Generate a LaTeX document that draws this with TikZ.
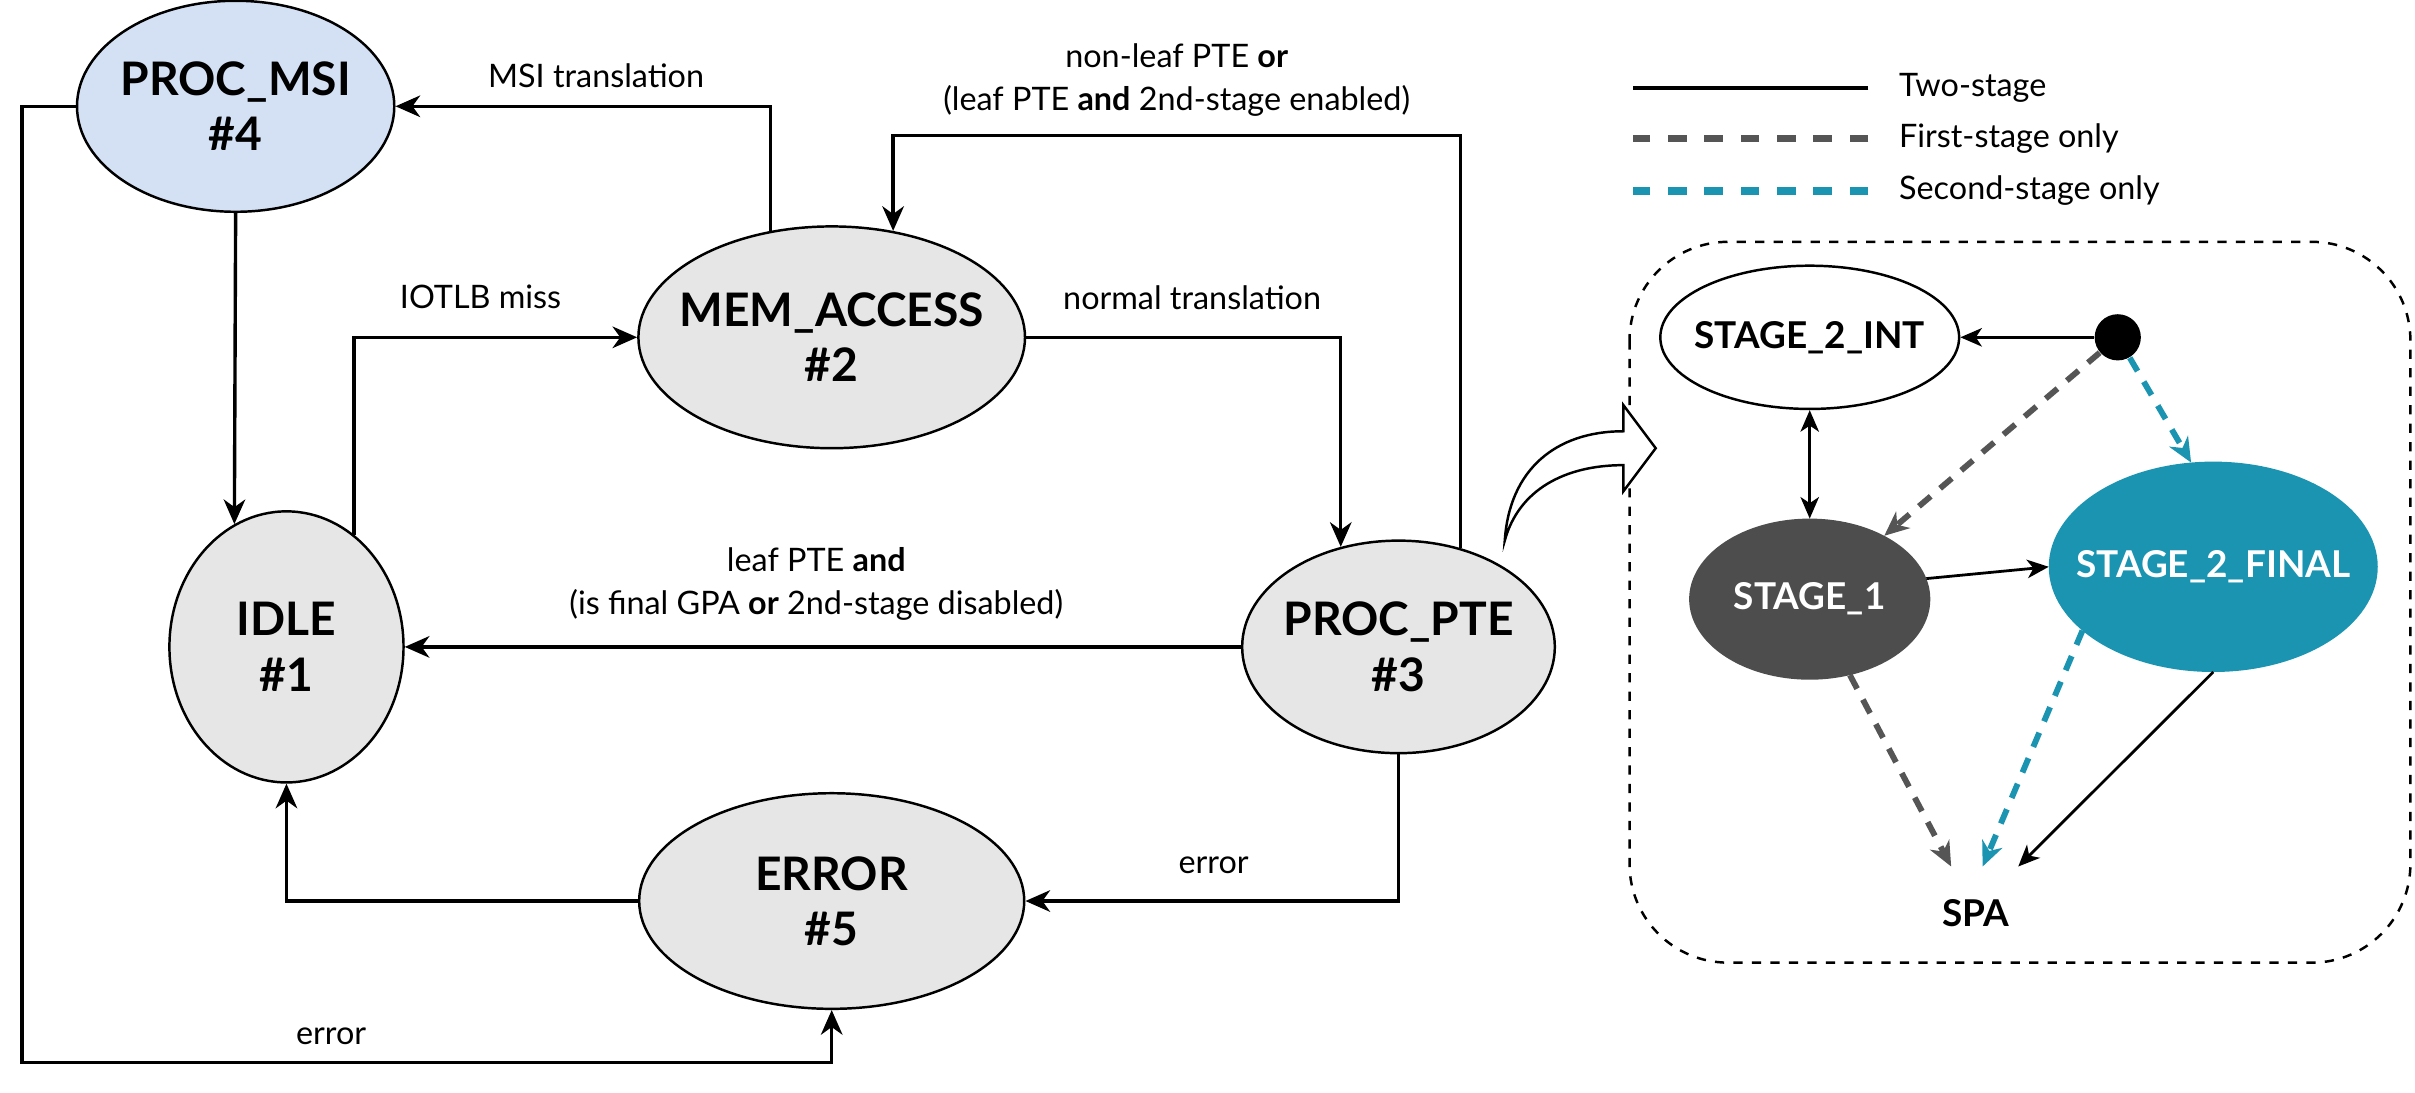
\documentclass[tikz,border=0pt]{standalone}
\usepackage{fontspec}
\setmainfont{Lato}
\usetikzlibrary{shapes.geometric,arrows.meta}

\definecolor{stategray}{HTML}{E6E6E6}
\definecolor{msiblue}{HTML}{D4E1F5}
\definecolor{stonegray}{HTML}{4D4D4D}
\definecolor{sttwoteal}{HTML}{1A94B1}
\definecolor{dashgray}{HTML}{555555}

% two centred lines that do not widen the ellipse
\newcommand{\stname}[2]{\makebox[0pt]{#1}\\\makebox[0pt]{#2}}

\begin{document}
\begin{tikzpicture}[x=0.5pt,y=-0.5pt,
  fsm/.style={ellipse,draw,line width=0.8pt,fill=stategray,inner sep=0pt,
    align=center,font=\fontsize{15}{18}\selectfont\bfseries},
  sub/.style={ellipse,draw,line width=0.8pt,inner sep=0pt,
    font=\fontsize{12}{14}\selectfont\bfseries},
  conn/.style={line width=1.1pt,-{Stealth[length=8pt,width=7pt,inset=2.5pt]}},
  connin/.style={line width=0.9pt,-{Stealth[length=7pt,width=6pt,inset=2pt]}},
  firstonly/.style={dashgray,line width=1.9pt,dash pattern=on 5pt off 4pt,
    -{Stealth[length=8pt,width=7pt,inset=2.5pt]}},
  secondonly/.style={sttwoteal,line width=1.9pt,dash pattern=on 5pt off 4pt,
    -{Stealth[length=8pt,width=7pt,inset=2.5pt]}},
  lbl/.style={font=\fontsize{10.5}{14}\selectfont,align=center},
  legline/.style={line width=2.4pt,dash pattern=on 6pt off 5.8pt}]
\useasboundingbox (0,0) rectangle (1568,709);

% walker states
\node[fsm,fill=msiblue,minimum width=103pt,minimum height=68.5pt] (msi) at (153,69) {\stname{PROC\_MSI}{\#4}};
\node[fsm,minimum width=125.5pt,minimum height=72pt] (mem) at (540,219) {\stname{MEM\_ACCESS}{\#2}};
\node[fsm,minimum width=76pt,minimum height=88pt] (idle) at (186,420) {\stname{IDLE}{\#1}};
\node[fsm,minimum width=101.5pt,minimum height=69pt] (pte) at (908,420) {\stname{PROC\_PTE}{\#3}};
\node[fsm,minimum width=125pt,minimum height=70pt] (err) at (540,585) {\stname{ERROR}{\#5}};

% transitions
\draw[conn] (mem.120) |- (msi.east);
\draw[conn] (pte.58) -- (pte.58 |- 0,88) -| (mem.60);
\draw[conn] (idle.59) |- (mem.west);
\draw[conn] (mem.east) -| (pte.120);
\draw[conn] (pte.west) -- (idle.east);
\draw[conn] (msi.south) -- (idle.113);
\draw[conn] (pte.south) |- (err.east);
\draw[conn] (err.west) -| (idle.south);
\draw[conn] (msi.west) -- ++(-35,0) -- ++(0,621) -| (err.south);

\node[lbl] (lmsi) at (387,49) {MSI translation};
\node[lbl] (lnonleaf) at (764,52) {non-leaf PTE \textbf{or}\\(leaf PTE \textbf{and} 2nd-stage enabled)};
\node[lbl] (liotlb) at (312,193) {IOTLB miss};
\node[lbl] (lnormal) at (774,193) {normal translation};
\node[lbl] (lleaf) at (530,379) {leaf PTE \textbf{and}\\(is final GPA \textbf{or} 2nd-stage disabled)};
\node[lbl] (lerrpte) at (788,562) {error};
\node[lbl] (lerrmsi) at (215,673) {error};

% legend
\node[lbl,anchor=west] (lgtwo) at (1226,57) {Two-stage};
\node[lbl,anchor=west] (lgfirst) at (1226,90) {First-stage only};
\node[lbl,anchor=west] (lgsecond) at (1226,124) {Second-stage only};
\draw[line width=1.2pt] (lgtwo.west) ++(-13,0) -- ++(-153,0);
\draw[legline,dashgray] (lgfirst.west) ++(-13,0) -- ++(-153,0);
\draw[legline,sttwoteal] (lgsecond.west) ++(-13,0) -- ++(-153,0);

% inner walk of PROC_PTE
\draw[line width=0.8pt,dash pattern=on 3pt off 3pt,rounded corners=32pt] (1058,157) rectangle (1565,625);
\path[draw=black,fill=white,line width=0.8pt] (977,351) .. controls (980,305) and (1010,280) .. (1054,280)
  -- (1054,263) -- (1075,291) -- (1054,319) -- (1054,302)
  .. controls (1016,302) and (986,318) .. (977,351) -- cycle;

\node[sub,fill=white,minimum width=97pt,minimum height=46.5pt] (s2int) at (1175,219) {\makebox[0pt]{STAGE\_2\_INT}};
\node[circle,fill=black,inner sep=0pt,minimum size=15pt] (dot) at (1375,219) {};
\node[sub,fill=stonegray,draw=stonegray,text=white,minimum width=77.5pt,minimum height=51.5pt] (s1) at (1175,389) {\makebox[0pt]{STAGE\_1}};
\node[sub,fill=sttwoteal,draw=sttwoteal,text=white,minimum width=106pt,minimum height=67.5pt] (s2f) at (1437,368) {\makebox[0pt]{STAGE\_2\_FINAL}};
\node[font=\fontsize{12}{14}\selectfont\bfseries,inner sep=0pt,minimum width=35pt,minimum height=30pt] (spa) at (1283,593) {SPA};

\draw[connin] (dot) -- (s2int);
\draw[connin,{Stealth[length=7pt,width=6pt,inset=2pt]}-{Stealth[length=7pt,width=6pt,inset=2pt]}] (s2int) -- (s1);
\draw[firstonly] (dot) -- (s1);
\draw[secondonly] (dot) -- (s2f.102);
\draw[connin] (s1.10) -- (s2f.west);
\draw[firstonly] (s1) -- (spa.118);
\draw[secondonly] (s2f.206) -- (spa.82);
\draw[connin] (s2f.south) -- (spa.48);
\end{tikzpicture}
\end{document}
